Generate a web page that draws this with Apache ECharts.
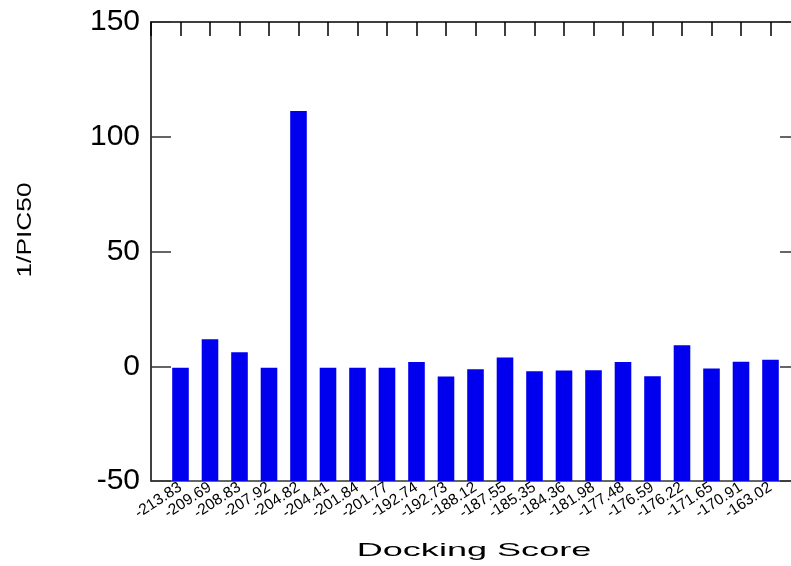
<!DOCTYPE html>
<html>
<head>
<meta charset="utf-8">
<script src="https://cdn.jsdelivr.net/npm/echarts@6/dist/echarts.min.js"></script>
<style>
html,body{margin:0;padding:0;background:#fff;}
#chart{width:791px;height:566px;}
</style>
</head>
<body>
<div id="chart"></div>
<script>
const categories = ["-213.83","-209.69","-208.83","-207.92","-204.82","-204.41","-201.84","-201.77","-192.74","-192.73","-188.12","-187.55","-185.35","-184.36","-181.98","-177.48","-176.59","-176.22","-171.65","-170.91","-163.02"];
const values = [-0.7, 11.8, 6.1, -0.6, 111.2, -0.6, -0.6, -0.6, 1.9, -4.5, -1.3, 3.8, -2.2, -1.9, -1.7, 1.9, -4.4, 9.1, -1.0, 2.0, 2.8];
const yTicks = [-50, 0, 50, 100, 150];
const xTitle = "Docking Score";
const yTitle = "1/PIC50";

const chart = echarts.init(document.getElementById('chart'), null, {renderer: 'canvas'});
const seriesData = values.map((v, i) => [i + 1, v]);
const FONT = 'Liberation Sans, Arial, Helvetica, sans-serif';

const option = {
  animation: false,
  backgroundColor: '#fff',
  grid: {left: 151, top: 22, width: 649, height: 459, containLabel: false, outerBoundsMode: 'none'},
  xAxis: [
    {
      type: 'value', position: 'bottom', min: 0, max: categories.length + 1, interval: 1,
      axisLine: {show: true, onZero: false, lineStyle: {color: '#333', width: 1.5}},
      axisTick: {show: false},
      splitLine: {show: false},
      axisLabel: {
        rotate: 33, fontSize: 15.5, fontFamily: FONT, color: '#000', margin: 5,
        showMinLabel: true, showMaxLabel: true, hideOverlap: false,
        formatter: v => (v >= 1 && v <= categories.length) ? categories[v - 1] : ''
      }
    },
    {
      type: 'value', position: 'top', min: 0, max: categories.length + 1, interval: 1,
      axisLine: {show: true, onZero: false, lineStyle: {color: '#000', width: 1.5}},
      axisTick: {show: true, inside: true, length: 14, lineStyle: {color: '#000', width: 1.5}},
      splitLine: {show: false},
      axisLabel: {show: false}
    }
  ],
  yAxis: [
    {
      type: 'value', position: 'left', min: yTicks[0], max: yTicks[yTicks.length - 1], interval: 50,
      startValue: yTicks[0],
      axisLine: {show: true, onZero: false, lineStyle: {color: '#000', width: 1.5}},
      axisTick: {show: true, inside: true, length: 20, lineStyle: {color: '#333', width: 1.5}},
      splitLine: {show: false},
      axisLabel: {fontSize: 30, fontFamily: FONT, color: '#000', margin: 11}
    },
    {
      type: 'value', position: 'right', min: yTicks[0], max: yTicks[yTicks.length - 1], interval: 50,
      axisLine: {show: true, onZero: false, lineStyle: {color: '#000', width: 1.5}},
      axisTick: {show: true, inside: true, length: 20, lineStyle: {color: '#333', width: 1.5}},
      splitLine: {show: false},
      axisLabel: {show: false}
    }
  ],
  series: [{
    type: 'bar',
    xAxisIndex: 0, yAxisIndex: 0,
    data: seriesData,
    barWidth: 16.6,
    itemStyle: {color: '#0000ee'},
    z: 5
  }],
  graphic: [
    {
      type: 'text', x: 474, y: 551, scaleX: 1.95, scaleY: 1,
      style: {text: xTitle, fontSize: 18.5, fontFamily: FONT, fill: '#000', align: 'center', verticalAlign: 'middle'}
    },
    {
      type: 'text', x: 26, y: 230, rotation: Math.PI / 2, scaleX: 1.35, scaleY: 1,
      style: {text: yTitle, fontSize: 19.5, fontFamily: FONT, fill: '#000', align: 'center', verticalAlign: 'middle'}
    }
  ]
};
chart.setOption(option);
</script>
</body>
</html>
